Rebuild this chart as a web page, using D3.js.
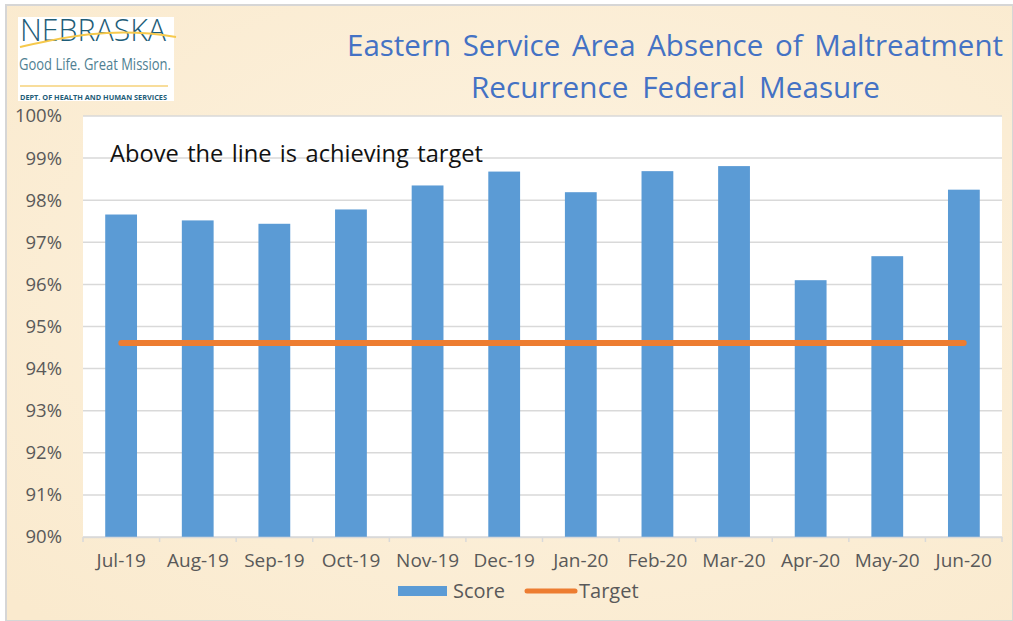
<!DOCTYPE html>
<html>
<head>
<meta charset="utf-8">
<script src="https://cdn.jsdelivr.net/npm/d3@7"></script>
<style>
  body { margin: 0; background: #fff; }
  text { font-family: "Open Sans", Lato, sans-serif; }
</style>
</head>
<body>
<script>
// data
const months = ["Jul-19", "Aug-19", "Sep-19", "Oct-19", "Nov-19", "Dec-19",
  "Jan-20", "Feb-20", "Mar-20", "Apr-20", "May-20", "Jun-20"];
const score = [0.9766, 0.9752, 0.9744, 0.9778, 0.9835, 0.9868,
  0.9819, 0.9869, 0.9881, 0.9610, 0.9667, 0.9825];
const target = 0.9461;
const yTicks = [0.90, 0.91, 0.92, 0.93, 0.94, 0.95, 0.96, 0.97, 0.98, 0.99, 1.00];

const W = 1013, H = 621;
const svg = d3.select("body").append("svg")
  .attr("width", W)
  .attr("height", H);

// grow the font until the text is nearly the wanted width, spread the rest over the word gaps
function fitText(sel, width, share) {
  let size = +sel.attr("font-size");
  let w = sel.node().getComputedTextLength();
  size = size * (width * share) / w;
  sel.attr("font-size", size);
  w = sel.node().getComputedTextLength();
  const n = sel.text().split(" ").length - 1;
  if (n > 0) sel.attr("word-spacing", (width - w) / n);
}

// beige paper background
const defs = svg.append("defs");
const rg = defs.append("radialGradient").attr("id", "paper")
  .attr("cx", "55%").attr("cy", "45%").attr("r", "75%");
rg.append("stop").attr("offset", "0%").attr("stop-color", "#fdf3e1");
rg.append("stop").attr("offset", "100%").attr("stop-color", "#faeace");

svg.append("rect")
  .attr("x", 6).attr("y", 5)
  .attr("width", W - 6).attr("height", H - 5)
  .attr("fill", "url(#paper)")
  .attr("stroke", "#d6d6d6")
  .attr("stroke-width", 2);

// logo
const logo = svg.append("g");
logo.append("rect")
  .attr("x", 18).attr("y", 17).attr("width", 156).attr("height", 84)
  .attr("fill", "#fff");
logo.append("text")
  .attr("x", 20).attr("y", 41)
  .attr("textLength", 146).attr("lengthAdjust", "spacingAndGlyphs")
  .attr("font-size", 32).attr("font-weight", 300)
  .attr("fill", "#1e5d78")
  .text("NEBRASKA");
logo.append("path")
  .attr("d", "M20,47 C60,38 110,26 176,37")
  .attr("fill", "none")
  .attr("stroke", "#f6c94c")
  .attr("stroke-width", 2);
logo.append("text")
  .attr("x", 19).attr("y", 70)
  .attr("textLength", 152).attr("lengthAdjust", "spacingAndGlyphs")
  .attr("font-size", 16)
  .attr("fill", "#4f7f92")
  .text("Good Life. Great Mission.");
logo.append("line")
  .attr("x1", 20).attr("x2", 168).attr("y1", 86).attr("y2", 86)
  .attr("stroke", "#f6d27a").attr("stroke-width", 1.5);
logo.append("text")
  .attr("x", 20).attr("y", 100)
  .attr("textLength", 147).attr("lengthAdjust", "spacingAndGlyphs")
  .attr("font-size", 7).attr("font-weight", 700)
  .attr("fill", "#1e5d78")
  .text("DEPT. OF HEALTH AND HUMAN SERVICES");

// title
const t1 = svg.append("text")
  .attr("x", 347).attr("y", 56)
  .attr("font-size", 27)
  .attr("fill", "#4472c4")
  .text("Eastern Service Area Absence of Maltreatment");
fitText(t1, 656, 0.97);
const t2 = svg.append("text")
  .attr("x", 471).attr("y", 98)
  .attr("font-size", 27)
  .attr("fill", "#4472c4")
  .text("Recurrence Federal Measure");
fitText(t2, 409, 0.97);

// scales
const plotL = 83, plotR = 1002, plotT = 116, plotB = 537;
const x = d3.scaleBand().domain(months).range([plotL, plotR]).paddingInner(0.585).paddingOuter(0.29);
const xb = d3.scaleBand().domain(months).range([plotL, plotR]);
const y = d3.scaleLinear().domain([0.90, 1.00]).range([plotB, plotT]);

// plot area
svg.append("rect")
  .attr("x", plotL).attr("y", plotT)
  .attr("width", plotR - plotL).attr("height", plotB - plotT)
  .attr("fill", "#fff");

// gridlines
svg.append("g")
  .selectAll("line")
  .data(yTicks)
  .join("line")
  .attr("x1", plotL).attr("x2", plotR)
  .attr("y1", d => y(d)).attr("y2", d => y(d))
  .attr("stroke", "#d9d9d9")
  .attr("stroke-width", 1.5);

// y axis labels
const yAxis = svg.append("g")
  .attr("transform", `translate(${plotL},0)`)
  .call(d3.axisLeft(y).tickValues(yTicks).tickFormat(d3.format(".0%")).tickSize(0).tickPadding(21));
yAxis.select(".domain").remove();
yAxis.selectAll("text")
  .attr("font-size", 18.5)
  .attr("fill", "#595959")
  .attr("font-family", "'Open Sans', Lato, sans-serif");

// annotation
const note = svg.append("text")
  .attr("x", 110).attr("y", 162)
  .attr("font-size", 21.5)
  .attr("fill", "#111")
  .text("Above the line is achieving target");
fitText(note, 373, 0.97);

// bars
svg.append("g")
  .selectAll("rect")
  .data(score)
  .join("rect")
  .attr("x", (d, i) => x(months[i]))
  .attr("y", d => y(d))
  .attr("width", x.bandwidth())
  .attr("height", d => y(0.90) - y(d))
  .attr("fill", "#5b9bd5");

// target line
svg.append("path")
  .datum(months)
  .attr("d", d3.line().x(m => xb(m) + xb.bandwidth() / 2).y(() => y(target)))
  .attr("fill", "none")
  .attr("stroke", "#ed7d31")
  .attr("stroke-width", 6)
  .attr("stroke-linecap", "round");

// x axis
const xAxis = svg.append("g")
  .attr("transform", `translate(0,${plotB})`)
  .call(d3.axisBottom(xb).tickSize(0).tickPadding(17));
xAxis.select(".domain").attr("stroke", "#d9d9d9").attr("stroke-width", 1.5);
xAxis.selectAll("text")
  .attr("font-size", 19)
  .attr("fill", "#595959")
  .attr("font-family", "'Open Sans', Lato, sans-serif");
// tick marks at category boundaries
svg.append("g")
  .selectAll("line")
  .data(months.concat(["end"]))
  .join("line")
  .attr("x1", (m, i) => i < months.length ? xb(m) : plotR)
  .attr("x2", (m, i) => i < months.length ? xb(m) : plotR)
  .attr("y1", plotB).attr("y2", plotB + 5)
  .attr("stroke", "#d9d9d9")
  .attr("stroke-width", 1.5);

// legend
const legend = svg.append("g");
legend.append("rect")
  .attr("x", 398).attr("y", 586).attr("width", 49).attr("height", 10)
  .attr("fill", "#5b9bd5");
legend.append("text")
  .attr("x", 453).attr("y", 598)
  .attr("font-size", 20).attr("fill", "#595959")
  .text("Score");
legend.append("line")
  .attr("x1", 527).attr("x2", 575).attr("y1", 591).attr("y2", 591)
  .attr("stroke", "#ed7d31").attr("stroke-width", 5).attr("stroke-linecap", "round");
legend.append("text")
  .attr("x", 579).attr("y", 598)
  .attr("font-size", 20).attr("fill", "#595959")
  .text("Target");
</script>
</body>
</html>
